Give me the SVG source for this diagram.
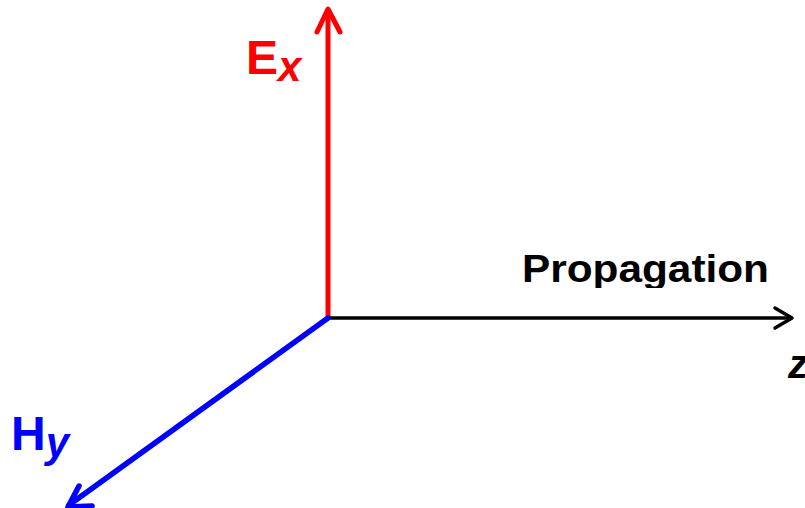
<svg xmlns="http://www.w3.org/2000/svg" width="805" height="508" viewBox="0 0 805 508">
<style>
.lbl{font-family:"Liberation Sans",Arial,sans-serif;font-weight:bold}
.sub{font-style:italic}
.ax{fill:none;stroke-linecap:round;stroke-linejoin:round}
</style>
<defs>
<clipPath id="propclip"><rect x="500" y="240" width="305" height="48"/></clipPath>
</defs>
<rect width="805" height="508" fill="#fff"/>
<g id="connectors">
<g id="ex-axis" class="ax" stroke="#ff0000">
<line x1="328" y1="318" x2="328" y2="10" stroke-width="5" stroke-linecap="butt"/>
<polyline points="317,32 328,9 340,32" stroke-width="5"/>
</g>
<g id="z-axis" class="ax" stroke="#000">
<line x1="328" y1="318" x2="790" y2="318" stroke-width="3.5" stroke-linecap="butt"/>
<polyline points="775,308 792,318 775,328" stroke-width="3.5"/>
</g>
<g id="hy-axis" class="ax" stroke="#0000ff">
<line x1="328" y1="318" x2="69" y2="505" stroke-width="5.5"/>
<polyline points="79,486 68,507 92,506" stroke-width="5.5"/>
</g>
</g>
<g id="label-ex">
<text class="lbl" x="246" y="74" font-size="48" fill="#ff0000">E<tspan class="sub" font-size="42" dy="7">x</tspan></text>
</g>
<g id="label-hy">
<text class="lbl" x="11" y="450" font-size="48" fill="#0000ff">H<tspan class="sub" font-size="42" dy="7">y</tspan></text>
</g>
<g id="label-propagation" clip-path="url(#propclip)">
<text class="lbl" x="522" y="282" font-size="38" fill="#000" textLength="247" lengthAdjust="spacingAndGlyphs">Propagation</text>
</g>
<g id="label-z">
<text class="lbl sub" x="788" y="378" font-size="40" font-weight="bold" fill="#000">z</text>
</g>
</svg>
